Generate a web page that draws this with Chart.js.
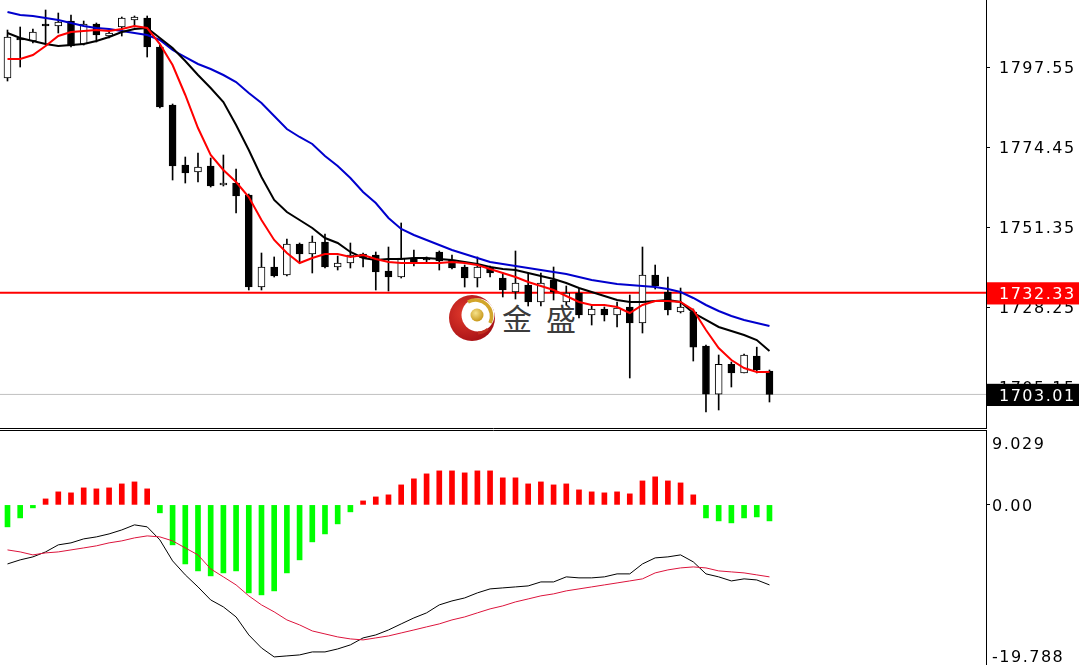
<!DOCTYPE html>
<html>
<head>
<meta charset="utf-8">
<script src="https://cdn.jsdelivr.net/npm/chart.js@4.4.1/dist/chart.umd.min.js"></script>
<style>
  html,body{margin:0;padding:0;background:#fff;}
  body{width:1079px;height:665px;overflow:hidden;position:relative;}
  canvas{position:absolute;left:0;}
  #main{top:0;z-index:2;}
  #macd{top:430px;z-index:2;}
  .wm{position:absolute;z-index:1;font-family:'Noto Sans CJK SC','Noto Sans CJK JP',sans-serif;font-size:30px;line-height:30px;color:#3c3c3c;}
  #logo{position:absolute;left:448px;top:293px;z-index:1;}
</style>
</head>
<body>
<div id="logo">
<svg width="50" height="50" viewBox="0 0 50 50">
  <defs>
    <radialGradient id="rg" cx="35%" cy="40%" r="70%"><stop offset="0" stop-color="#e23a2c"/><stop offset="1" stop-color="#a40f14"/></radialGradient>
    <radialGradient id="gg" cx="40%" cy="35%" r="65%"><stop offset="0" stop-color="#f6e28a"/><stop offset="1" stop-color="#c8991c"/></radialGradient>
  </defs>
  <circle cx="24" cy="25" r="23" fill="url(#rg)"/>
  <circle cx="30" cy="22" r="16.5" fill="#fff"/>
  <path d="M 20 9 A 16 16 0 0 1 42 30" stroke="#d2a52a" stroke-width="3.5" fill="none"/>
  <path d="M 40 36 A 16 16 0 0 1 30 40" stroke="#c23020" stroke-width="3" fill="none"/>
  <circle cx="29" cy="22" r="6.5" fill="url(#gg)"/>
</svg>
</div>
<div class="wm" style="left:502px;top:302px;">金</div>
<div class="wm" style="left:546px;top:302px;">盛</div>
<canvas id="main" width="1079" height="430"></canvas>
<canvas id="macd" width="1079" height="240"></canvas>
<script>
// ---------- DATA ----------
const open  = [1794.37,1805.92,1805.06,1809.97,1809.39,1810.83,1804.19,1809.97,1806.50,1809.10,1811.12,1811.70,1803.32,1786.58,1769.25,1767.23,1768.96,1763.48,1764.05,1760.59,1734.02,1739.80,1737.49,1746.44,1743.55,1747.02,1739.80,1740.95,1743.55,1743.26,1738.64,1736.91,1742.40,1742.11,1744.13,1741.82,1739.80,1736.62,1739.51,1736.62,1732.58,1734.60,1729.69,1736.05,1729.69,1732.29,1725.94,1727.67,1725.94,1728.25,1723.63,1737.49,1732.58,1726.80,1726.80,1716.94,1703.07,1711.73,1709.20,1714.10,1709.77];
const high  = [1808.23,1809.10,1808.52,1814.01,1813.14,1812.57,1810.83,1810.26,1808.23,1811.99,1812.28,1812.28,1803.90,1786.87,1771.56,1772.72,1771.27,1772.14,1768.10,1760.88,1743.84,1742.70,1747.88,1746.73,1748.75,1749.33,1742.98,1746.73,1743.84,1744.13,1745.57,1752.51,1744.71,1742.70,1744.42,1743.26,1740.37,1742.70,1740.09,1738.07,1744.42,1738.07,1738.07,1739.80,1734.31,1733.73,1728.83,1728.25,1729.69,1731.71,1745.57,1740.37,1736.91,1733.73,1727.67,1717.23,1714.39,1712.37,1714.68,1716.65,1710.06];
const low   = [1793.51,1797.55,1804.48,1804.48,1807.37,1803.32,1803.90,1804.77,1805.92,1806.50,1809.10,1800.44,1785.71,1764.92,1764.05,1764.34,1762.90,1763.19,1755.39,1733.16,1733.16,1736.91,1737.20,1740.95,1738.07,1739.51,1738.93,1739.51,1739.80,1733.16,1732.87,1736.62,1740.09,1741.24,1738.93,1739.22,1734.02,1734.02,1736.91,1731.14,1730.56,1728.54,1728.54,1730.27,1728.83,1725.07,1723.05,1724.21,1722.48,1707.75,1720.74,1733.44,1725.94,1726.52,1712.65,1697.93,1698.51,1705.15,1709.20,1709.20,1700.82];
const close = [1806.21,1805.35,1807.66,1809.39,1810.54,1803.61,1809.97,1806.79,1807.37,1811.70,1811.99,1803.32,1786.00,1768.96,1766.94,1768.67,1763.19,1764.05,1760.30,1734.02,1739.80,1737.20,1746.44,1743.55,1747.02,1739.80,1740.95,1743.26,1742.40,1738.35,1736.91,1742.40,1741.24,1741.82,1741.53,1739.51,1736.62,1739.80,1738.07,1733.16,1735.18,1729.69,1735.18,1732.58,1732.29,1725.94,1727.67,1725.94,1727.96,1723.63,1737.49,1734.31,1727.38,1728.25,1716.65,1703.07,1711.73,1709.20,1714.39,1710.06,1703.01];

const maRed   = [1799.86,1799.86,1801.01,1803.61,1806.50,1807.66,1807.95,1808.23,1807.95,1808.52,1809.39,1808.81,1804.19,1798.13,1789.47,1779.94,1772.14,1767.81,1764.34,1760.01,1753.37,1747.60,1743.84,1740.95,1742.40,1743.55,1743.55,1742.69,1743.26,1742.11,1741.24,1740.95,1740.95,1740.95,1740.95,1741.24,1740.95,1740.38,1739.22,1738.07,1736.91,1735.47,1734.31,1733.16,1731.43,1729.69,1728.83,1728.83,1728.25,1726.52,1728.83,1729.98,1729.98,1729.69,1727.38,1721.61,1716.41,1712.95,1710.64,1709.48,1709.48];
const maBlack = [1807.37,1805.92,1805.06,1804.19,1803.61,1803.90,1804.19,1805.06,1806.21,1807.66,1808.52,1808.81,1805.92,1803.04,1799.28,1795.24,1791.49,1787.44,1780.80,1773.58,1765.79,1759.15,1755.68,1753.37,1751.06,1748.17,1746.73,1744.13,1742.40,1741.82,1742.11,1742.11,1742.40,1742.40,1742.11,1741.82,1741.24,1740.67,1739.80,1739.22,1738.93,1738.07,1737.20,1736.33,1735.18,1733.73,1732.58,1731.43,1730.27,1729.69,1729.69,1729.98,1730.27,1729.69,1726.52,1724.50,1722.48,1721.32,1720.17,1718.72,1715.55];
const maBlue  = [1813.43,1812.57,1812.28,1811.70,1811.12,1810.26,1809.39,1808.81,1808.52,1807.95,1807.37,1806.79,1805.35,1802.46,1800.44,1798.42,1796.97,1795.24,1793.22,1790.04,1787.16,1783.40,1779.65,1777.34,1775.32,1771.85,1768.96,1765.50,1761.46,1758.28,1753.95,1750.77,1749.04,1747.60,1746.15,1744.71,1743.55,1742.40,1741.24,1740.67,1740.09,1739.51,1738.93,1738.35,1737.78,1736.91,1736.05,1735.47,1734.89,1734.60,1734.31,1734.02,1733.45,1732.58,1730.85,1728.83,1727.10,1725.65,1724.50,1723.63,1722.77];

const macdHist   = [-2.65,-1.57,-0.36,0.72,1.57,1.45,2.05,1.93,2.05,2.53,2.77,1.93,-0.96,-4.82,-7.12,-7.96,-8.56,-8.20,-7.96,-10.61,-10.85,-10.37,-8.20,-6.63,-4.46,-3.50,-2.29,-0.84,0.48,0.96,1.21,2.41,3.14,3.74,4.10,4.10,3.86,4.10,4.10,3.26,3.26,2.53,2.77,2.41,2.53,1.81,1.57,1.45,1.57,1.33,2.89,3.38,2.89,2.65,1.21,-1.57,-1.93,-2.17,-1.57,-1.45,-1.93];
const macdMain   = [-7.12,-6.63,-6.27,-5.67,-4.82,-4.58,-4.10,-3.86,-3.50,-3.02,-2.41,-2.65,-4.22,-6.75,-8.44,-9.89,-11.46,-12.30,-13.51,-15.68,-17.25,-18.33,-18.21,-18.09,-17.73,-17.73,-17.37,-16.88,-16.04,-15.68,-15.08,-14.35,-13.63,-13.02,-12.06,-11.58,-11.22,-10.61,-10.13,-10.01,-9.89,-9.77,-9.29,-9.29,-8.68,-8.80,-8.80,-8.68,-8.32,-8.32,-7.12,-6.39,-6.27,-6.03,-6.87,-8.32,-8.68,-9.17,-8.92,-9.05,-9.65];
const macdSignal = [-5.43,-5.67,-6.03,-5.79,-5.67,-5.43,-5.19,-4.94,-4.58,-4.34,-3.98,-3.74,-3.86,-4.34,-5.19,-6.03,-7.72,-8.68,-9.65,-10.97,-12.06,-12.90,-13.87,-14.47,-15.20,-15.56,-15.92,-16.16,-16.28,-16.04,-15.80,-15.44,-15.08,-14.71,-14.35,-13.87,-13.51,-13.02,-12.54,-12.18,-11.70,-11.34,-10.97,-10.73,-10.37,-10.13,-9.89,-9.65,-9.41,-9.17,-8.92,-8.20,-7.84,-7.60,-7.48,-7.60,-7.96,-8.08,-8.20,-8.44,-8.68];

const priceTicks = [1797.55, 1774.45, 1751.35, 1728.25, 1705.15];
const levels = [1732.33, 1703.01];           // red level line, last price line
const priceRange = [1693.31, 1816.90];
const macdRange = [-19.788, 9.029];
const macdTickValues = [7.48, 0, -18.21];
const macdTickLabels = ['9.029', '0.00', '-19.788'];
const xRange = [-0.59, 77.05];

// ---------- HELPERS ----------
const FONT = {family: "'DejaVu Sans', Verdana, sans-serif", size: 16, lineHeight: 1.2};
const idx = open.map((_, i) => i);
const pts = arr => arr.map((v, i) => ({x: idx[i], y: v}));

const spacing = {
  id: 'spacing',
  beforeUpdate(c) { c.ctx.letterSpacing = '1.5px'; },
  beforeDraw(c) { c.ctx.letterSpacing = '1.5px'; }
};
const levelLines = {
  id: 'levelLines',
  beforeDatasetsDraw(c) {
    const {ctx, chartArea: a, scales: {y}} = c;
    const styles = [{color: '#ff0000', w: 2}, {color: '#c0c0c0', w: 1}];
    levels.forEach((v, k) => {
      const py = y.getPixelForValue(v);
      ctx.save();
      ctx.strokeStyle = styles[k].color;
      ctx.lineWidth = styles[k].w;
      ctx.beginPath();
      ctx.moveTo(a.left, py); ctx.lineTo(a.right, py);
      ctx.stroke();
      ctx.restore();
    });
  }
};
const frame = (edge) => ({
  id: 'frame',
  afterDraw(c) {
    const {ctx, chartArea: a} = c;
    ctx.save();
    ctx.strokeStyle = '#000'; ctx.lineWidth = 1;
    ctx.beginPath();
    const yy = edge === 'bottom' ? Math.round(a.bottom) + 0.5 : Math.round(a.top) + 0.5;
    ctx.moveTo(0, yy); ctx.lineTo(Math.round(a.right) + 1, yy);
    ctx.stroke();
    ctx.restore();
  }
});
function fixAxis(scale) {
  scale.width = 93;
  scale.paddingTop = 0; scale.paddingBottom = 0;
}

// ---------- MAIN CHART ----------
new Chart(document.getElementById('main'), {
  type: 'bar',
  data: {
    datasets: [
      {type: 'bar', label: 'wick', data: idx.map(i => ({x: i, y: [low[i], high[i]]})),
       backgroundColor: '#000', borderWidth: 0, barThickness: 1, grouped: false, order: 5},
      {type: 'bar', label: 'body', data: idx.map(i => ({x: i, y: [open[i], close[i]]})),
       backgroundColor: c => close[c.dataIndex] >= open[c.dataIndex] ? '#ffffff' : '#000000',
       borderColor: '#000', borderWidth: 1, borderSkipped: false, barThickness: 7,
       minBarLength: 1, grouped: false, order: 4},
      {type: 'line', label: 'MA slow', data: pts(maBlue), borderColor: '#0000cd', borderWidth: 2,
       pointRadius: 0, tension: 0, order: 3},
      {type: 'line', label: 'MA mid', data: pts(maBlack), borderColor: '#000000', borderWidth: 2,
       pointRadius: 0, tension: 0, order: 2},
      {type: 'line', label: 'MA fast', data: pts(maRed), borderColor: '#ff0000', borderWidth: 2,
       pointRadius: 0, tension: 0, order: 1}
    ]
  },
  options: {
    responsive: false, animation: false, devicePixelRatio: 1,
    layout: {padding: {left: 0, right: 0, top: 0, bottom: 2}},
    plugins: {legend: {display: false}, tooltip: {enabled: false}},
    scales: {
      x: {type: 'linear', min: xRange[0], max: xRange[1], display: false, offset: false, bounds: 'data'},
      y: {
        type: 'linear', position: 'right', min: priceRange[0], max: priceRange[1], bounds: 'data',
        afterBuildTicks: s => { s.ticks = priceTicks.concat(levels).map(v => ({value: v})); },
        afterFit: fixAxis,
        border: {display: true, color: '#000', width: 1},
        grid: {drawOnChartArea: false, drawTicks: true, tickLength: 4,
               color: c => (c.tick && levels.includes(c.tick.value)) ? 'rgba(0,0,0,0)' : '#000'},
        ticks: {
          autoSkip: false, padding: 9, font: FONT, labelOffset: 2,
          callback: v => Number(v).toFixed(2),
          color: c => (c.tick && levels.includes(c.tick.value)) ? '#ffffff' : '#000000',
          showLabelBackdrop: true,
          backdropColor: c => !c.tick ? 'rgba(0,0,0,0)' :
            c.tick.value === levels[0] ? '#ff0000' : c.tick.value === levels[1] ? '#000000' : 'rgba(0,0,0,0)',
          backdropPadding: {left: 12, right: 8, top: 3, bottom: 0}
        }
      }
    }
  },
  plugins: [spacing, levelLines, frame('bottom')]
});

// ---------- MACD CHART ----------
new Chart(document.getElementById('macd'), {
  type: 'bar',
  data: {
    datasets: [
      {type: 'line', label: 'MACD', data: pts(macdMain), borderColor: '#000000', borderWidth: 1,
       pointRadius: 0, tension: 0, order: 2},
      {type: 'line', label: 'Signal', data: pts(macdSignal), borderColor: '#dc143c', borderWidth: 1,
       pointRadius: 0, tension: 0, order: 1},
      {type: 'bar', label: 'Hist', data: pts(macdHist),
       backgroundColor: c => macdHist[c.dataIndex] >= 0 ? '#ff0000' : '#00ff00',
       borderWidth: 0, barThickness: 5, grouped: false, order: 3}
    ]
  },
  options: {
    responsive: false, animation: false, devicePixelRatio: 1,
    layout: {padding: {left: 0, right: 0, top: 0, bottom: 1}},
    plugins: {legend: {display: false}, tooltip: {enabled: false}},
    scales: {
      x: {type: 'linear', min: xRange[0], max: xRange[1], display: false, offset: false, bounds: 'data'},
      y: {
        type: 'linear', position: 'right', min: macdRange[0], max: macdRange[1], bounds: 'data',
        afterBuildTicks: s => { s.ticks = macdTickValues.map(v => ({value: v})); },
        afterFit: fixAxis,
        border: {display: true, color: '#000', width: 1},
        grid: {drawOnChartArea: false, drawTicks: true, tickLength: 4,
               color: c => (c.tick && c.tick.value === 0) ? '#000' : 'rgba(0,0,0,0)'},
        ticks: {autoSkip: false, padding: 2, font: FONT, color: '#000', labelOffset: 2,
                callback: (v, i) => macdTickLabels[i]}
      }
    }
  },
  plugins: [spacing, frame('top')]
});
</script>
</body>
</html>
